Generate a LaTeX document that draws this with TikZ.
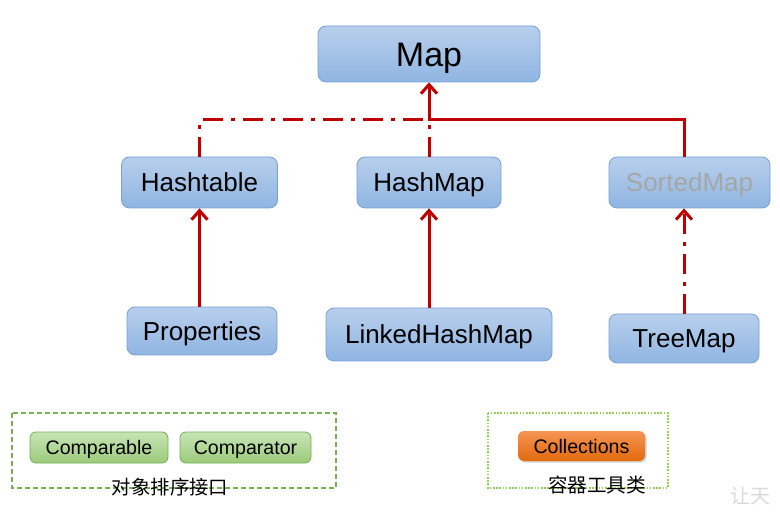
\documentclass[tikz,border=0pt]{standalone}
\usepackage{fontspec}
\setmainfont{Liberation Sans}
\newfontfamily\cjk{Noto Sans CJK SC}
\usetikzlibrary{arrows.meta,shadows}

\definecolor{bluetop}{RGB}{184,207,236}
\definecolor{bluebot}{RGB}{143,181,226}
\definecolor{blueline}{RGB}{118,160,212}
\definecolor{greentop}{RGB}{199,228,182}
\definecolor{greenbot}{RGB}{156,203,122}
\definecolor{greenline}{RGB}{118,174,82}
\definecolor{dotgreen}{RGB}{146,208,80}
\definecolor{orangetop}{RGB}{245,148,84}
\definecolor{orangebot}{RGB}{226,106,12}
\definecolor{linkred}{RGB}{192,0,0}
\definecolor{fadegray}{RGB}{166,166,166}
\definecolor{wmgray}{RGB}{218,218,218}

\tikzset{
  cls/.style={draw=blueline, rounded corners=4pt, top color=bluetop, bottom color=bluebot,
    inner sep=0pt, text height=9.4pt, text depth=0pt, font=\fontsize{13}{15}\selectfont},
  util/.style={rounded corners=3pt, inner sep=0pt, minimum height=15.5pt,
    text height=7pt, text depth=0pt, font=\fontsize{9.8}{11}\selectfont},
  link/.style={draw=linkred, line width=1.5pt},
  dashdot/.style={dash pattern=on 10pt off 4pt on 2pt off 4pt},
  tip/.style={-{Straight Barb[length=4.5pt,width=8pt]}}
}

\begin{document}
\begin{tikzpicture}[x=0.5pt,y=-0.5pt]
\useasboundingbox (0,0) rectangle (780,512);

\node[cls, minimum width=111pt, minimum height=28pt, text height=12.2pt, font=\fontsize{17}{20}\selectfont] (map) at (429,54) {Map};
\node[cls, minimum width=78pt, minimum height=25.5pt] (hasht) at (199.5,182.5) {Hashtable};
\node[cls, minimum width=72pt, minimum height=25.5pt] (hashm) at (429,182.5) {HashMap};
\node[cls, minimum width=80.5pt, minimum height=25.5pt, text=fadegray] (sorted) at (689.5,182.5) {SortedMap};
\node[cls, minimum width=75pt, minimum height=24pt] (prop) at (202,331) {Properties};
\node[cls, minimum width=113pt, minimum height=26.5pt] (lhm) at (439,334.5) {LinkedHashMap};
\node[cls, minimum width=75pt, minimum height=24.5pt] (tree) at (684,338.5) {TreeMap};

\coordinate (j) at (429,120);
\coordinate (jl) at (199.5,120);
\coordinate (jr) at (684,120);
\draw[link,tip] (jr |- sorted.north) -- (jr) -- (j) -- (map.south);
\draw[link,dashdot] (hasht.north) -- (jl) -- (j);
\draw[link,dashdot] (hashm.north) -- (j);
\draw[link,tip] (hasht.south |- prop.north) -- (hasht.south);
\draw[link,tip] (hashm.south |- lhm.north) -- (hashm.south);
\draw[link,dashdot,tip] (tree.north) -- (tree.north |- sorted.south);

% sorting interfaces
\draw[greenline, line width=0.6pt, dash pattern=on 2.5pt off 1.5pt] (12,413) rectangle (336,488);
\node[util, draw=greenline, top color=greentop, bottom color=greenbot, minimum width=69pt] (cmpb) at (99,447.5) {Comparable};
\node[util, draw=greenline, top color=greentop, bottom color=greenbot, minimum width=65.5pt] (cmpt) at (245.5,447.5) {Comparator};
\node[font=\cjk\fontsize{9.7}{11}\selectfont, inner sep=0pt] (sortlbl) at (170,487) {对象排序接口};

% utility class
\draw[dotgreen, line width=0.6pt, dash pattern=on 0.8pt off 0.8pt] (488,413) rectangle (668,488);
\node[util, top color=orangetop, bottom color=orangebot, minimum width=63.5pt, minimum height=15pt,
  drop shadow={opacity=0.35, shadow xshift=0.8pt, shadow yshift=-0.8pt}] (coll) at (581.5,446) {Collections};
\node[font=\cjk\fontsize{9.8}{11}\selectfont, inner sep=0pt] (colllbl) at (597,484.5) {容器工具类};

\node[anchor=west, font=\cjk\fontsize{10}{11}\selectfont, text=wmgray, inner sep=0pt] (wm) at (730,496) {让天};
\end{tikzpicture}
\end{document}
